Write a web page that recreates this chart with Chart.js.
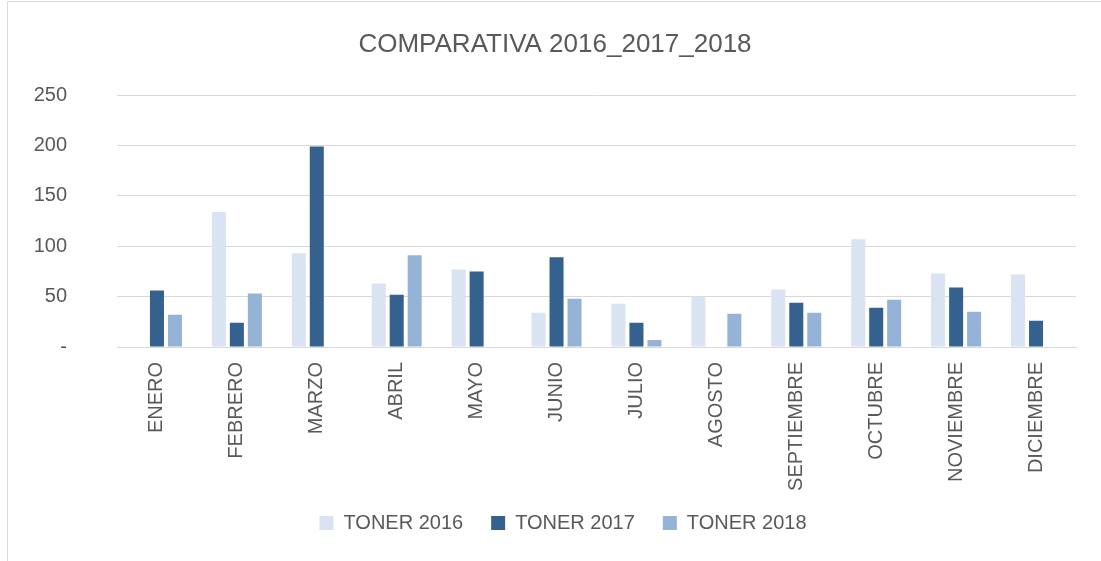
<!DOCTYPE html>
<html>
<head>
<meta charset="utf-8">
<script src="https://cdn.jsdelivr.net/npm/chart.js@4.4.0/dist/chart.umd.min.js"></script>
<style>
  html, body { margin: 0; padding: 0; background: #ffffff; }
  #c { display: block; }
</style>
</head>
<body>
<canvas id="c" width="1101" height="561"></canvas>
<script>
const categories = ['ENERO','FEBRERO','MARZO','ABRIL','MAYO','JUNIO','JULIO','AGOSTO','SEPTIEMBRE','OCTUBRE','NOVIEMBRE','DICIEMBRE'];
const toner2016 = [null, 134, 93, 63, 77, 34, 43, 50, 57, 107, 73, 72];
const toner2017 = [56, 24, 199, 52, 75, 89, 24, null, 44, 39, 59, 26];
const toner2018 = [32, 53, null, 91, null, 48, 7, 33, 34, 47, 35, null];
const seriesNames = ['TONER 2016', 'TONER 2017', 'TONER 2018'];
const yTicks = [0, 50, 100, 150, 200, 250];
const titleText = 'COMPARATIVA 2016_2017_2018';

const FONT = '"Liberation Sans", Arial, sans-serif';
const TEXT = '#595959';
const GRID = '#d9d9d9';

const framePlugin = {
  id: 'frame',
  beforeDraw(chart) {
    const ctx = chart.ctx;
    ctx.save();
    ctx.fillStyle = '#ffffff';
    ctx.fillRect(0, 0, chart.width, chart.height);
    ctx.strokeStyle = '#d9d9d9';
    ctx.lineWidth = 1;
    ctx.beginPath();
    ctx.moveTo(7.5, chart.height);
    ctx.lineTo(7.5, 1.5);
    ctx.lineTo(chart.width, 1.5);
    ctx.stroke();
    ctx.restore();
  },
  afterLayout(chart) {
    // centre title and legend on the whole frame (like the original)
    if (chart.legend) {
      chart.legend.left = 25; chart.legend.right = chart.width;
      chart.legend.top -= 18; chart.legend.bottom -= 18;
    }
    if (chart.titleBlock) { chart.titleBlock.left = 9; chart.titleBlock.right = chart.width; }
  }
};

new Chart(document.getElementById('c'), {
  type: 'bar',
  data: {
    labels: categories,
    datasets: [
      { label: seriesNames[0], data: toner2016, backgroundColor: '#dae3f3' },
      { label: seriesNames[1], data: toner2017, backgroundColor: '#35618f' },
      { label: seriesNames[2], data: toner2018, backgroundColor: '#95b3d7' }
    ]
  },
  options: {
    responsive: false,
    animation: false,
    devicePixelRatio: 1,
    layout: { padding: { left: 0, right: 25, top: 0, bottom: 0 } },
    datasets: { bar: { categoryPercentage: 0.675, barPercentage: 0.78 } },
    plugins: {
      title: {
        display: true,
        text: titleText,
        color: TEXT,
        font: { family: FONT, size: 26, weight: 'normal' },
        padding: { top: 29, bottom: 35 }
      },
      legend: {
        position: 'bottom',
        labels: {
          color: TEXT,
          font: { family: FONT, size: 20 },
          boxWidth: 14,
          boxHeight: 14,
          padding: 28
        }
      },
      tooltip: { enabled: false }
    },
    scales: {
      x: {
        grid: { display: false },
        border: { display: true, color: GRID, width: 1 },
        ticks: {
          color: TEXT,
          font: { family: FONT, size: 20 },
          minRotation: 90,
          maxRotation: 90,
          padding: 7,
          autoSkip: false
        },
        afterFit(scale) { scale.height = 156; }
      },
      y: {
        min: 0,
        max: 250,
        afterBuildTicks(scale) { scale.ticks = yTicks.map(v => ({ value: v })); },
        grid: { color: GRID, lineWidth: 1, drawTicks: false },
        border: { display: false },
        ticks: {
          color: TEXT,
          font: { family: FONT, size: 20 },
          padding: 50,
          callback: v => (v === 0 ? '-' : String(v))
        },
        afterFit(scale) { scale.width = 117; }
      }
    }
  },
  plugins: [framePlugin]
});
</script>
</body>
</html>
